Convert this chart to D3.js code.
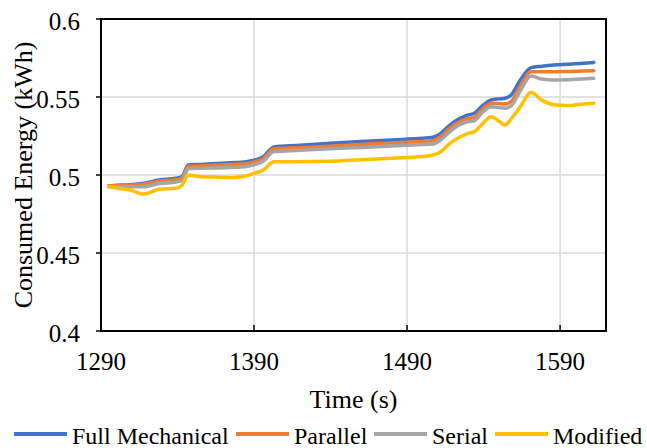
<!DOCTYPE html>
<html>
<head>
<meta charset="utf-8">
<script src="https://cdn.jsdelivr.net/npm/d3@7"></script>
<style>
  html, body { margin: 0; padding: 0; background: #fff; }
  svg { display: block; font-family: "Liberation Serif", "Times New Roman", serif; }
</style>
</head>
<body>
<svg id="chart" width="647" height="448"></svg>
<script>
const times = [1295, 1301, 1309, 1318, 1328, 1339, 1343, 1347, 1355, 1365, 1375, 1385, 1390, 1396, 1403, 1420, 1440, 1460, 1480, 1500, 1507, 1512, 1518, 1524, 1530, 1534, 1539, 1545, 1550, 1554, 1558, 1564, 1571, 1578, 1586, 1595, 1605, 1612];

const fullMechanical = [0.4930, 0.4935, 0.4938, 0.4947, 0.4968, 0.4979, 0.4990, 0.5064, 0.5068, 0.5073, 0.5078, 0.5085, 0.5095, 0.5117, 0.5180, 0.5190, 0.5203, 0.5215, 0.5225, 0.5235, 0.5242, 0.5267, 0.5320, 0.5360, 0.5385, 0.5396, 0.5442, 0.5481, 0.5488, 0.5492, 0.5513, 0.5609, 0.5688, 0.5697, 0.5705, 0.5710, 0.5716, 0.5722];
const parallel = [0.4930, 0.4933, 0.4935, 0.4940, 0.4960, 0.4970, 0.4980, 0.5055, 0.5058, 0.5062, 0.5067, 0.5073, 0.5083, 0.5105, 0.5168, 0.5175, 0.5185, 0.5195, 0.5205, 0.5215, 0.5220, 0.5245, 0.5300, 0.5340, 0.5363, 0.5370, 0.5420, 0.5460, 0.5458, 0.5455, 0.5470, 0.5570, 0.5662, 0.5662, 0.5662, 0.5664, 0.5667, 0.5669];
const serial = [0.4925, 0.4925, 0.4925, 0.4925, 0.4945, 0.4955, 0.4965, 0.5040, 0.5043, 0.5045, 0.5048, 0.5055, 0.5066, 0.5088, 0.5150, 0.5158, 0.5168, 0.5177, 0.5186, 0.5195, 0.5199, 0.5225, 0.5278, 0.5320, 0.5342, 0.5348, 0.5400, 0.5438, 0.5433, 0.5428, 0.5443, 0.5540, 0.5635, 0.5615, 0.5609, 0.5611, 0.5616, 0.5620];
const modified = [0.4928, 0.4915, 0.4904, 0.4878, 0.4908, 0.4915, 0.4935, 0.5000, 0.4989, 0.4987, 0.4983, 0.4995, 0.5010, 0.5032, 0.5085, 0.5085, 0.5088, 0.5098, 0.5108, 0.5118, 0.5128, 0.5149, 0.5203, 0.5240, 0.5267, 0.5278, 0.5325, 0.5374, 0.5345, 0.5320, 0.5360, 0.5438, 0.5530, 0.5480, 0.5450, 0.5445, 0.5455, 0.5460];

const seriesNames = ["Full Mechanical", "Parallel", "Serial", "Modified"];
const seriesColors = ["#4472C4", "#ED7D31", "#A5A5A5", "#FFC000"];
const seriesValues = [fullMechanical, parallel, serial, modified];

const xTicks = [1290, 1390, 1490, 1590];
const yTicks = [0.4, 0.45, 0.5, 0.55, 0.6];
const xDomain = [1290, 1620];
const yDomain = [0.4, 0.6];

const svg = d3.select("#chart");
const L = 101, R = 606, T = 19, B = 331;

const x = d3.scaleLinear().domain(xDomain).range([L, R]);
const y = d3.scaleLinear().domain(yDomain).range([B, T]);

// gridlines
svg.append("g").selectAll("line.hg").data(yTicks.filter(v => v > 0.4 && v < 0.6)).join("line")
  .attr("x1", L).attr("x2", R).attr("y1", d => y(d)).attr("y2", d => y(d))
  .attr("stroke", "#d9d9d9").attr("stroke-width", 1.5);
svg.append("g").selectAll("line.vg").data(xTicks.filter(v => v > 1290)).join("line")
  .attr("x1", d => x(d)).attr("x2", d => x(d)).attr("y1", T).attr("y2", B)
  .attr("stroke", "#d9d9d9").attr("stroke-width", 1.5);

// x ticks (inside)
svg.append("g").selectAll("line").data(xTicks).join("line")
  .attr("x1", d => x(d)).attr("x2", d => x(d)).attr("y1", B).attr("y2", B - 6)
  .attr("stroke", "#000").attr("stroke-width", 1.5);
// y ticks (outside)
svg.append("g").selectAll("line").data(yTicks).join("line")
  .attr("x1", L - 5).attr("x2", L).attr("y1", d => y(d)).attr("y2", d => y(d))
  .attr("stroke", "#000").attr("stroke-width", 1.5);

// lines
const line = d3.line().x((d, i) => x(times[i])).y(d => y(d)).curve(d3.curveMonotoneX);
seriesValues.forEach((vals, k) => {
  svg.append("path").datum(vals)
    .attr("d", line)
    .attr("fill", "none")
    .attr("stroke", seriesColors[k])
    .attr("stroke-width", 3.5)
    .attr("stroke-linecap", "round")
    .attr("stroke-linejoin", "round");
});

// frame
svg.append("rect").attr("x", L).attr("y", T).attr("width", R - L).attr("height", B - T)
  .attr("fill", "none").attr("stroke", "#000").attr("stroke-width", 2);

// tick labels
svg.append("g").selectAll("text").data(yTicks).join("text")
  .attr("x", 80).attr("y", d => y(d) + 10.5)
  .attr("text-anchor", "end").attr("font-size", 25).attr("fill", "#000")
  .text(d => d3.format("")(d));
svg.append("g").selectAll("text").data(xTicks).join("text")
  .attr("x", d => x(d)).attr("y", 370)
  .attr("text-anchor", "middle").attr("font-size", 25).attr("fill", "#000")
  .text(d => d);

// axis titles
svg.append("text").attr("x", (L + R) / 2).attr("y", 408)
  .attr("text-anchor", "middle").attr("font-size", 26).text("Time (s)");
svg.append("text").attr("transform", `translate(32,${(T + B) / 2}) rotate(-90)`)
  .attr("text-anchor", "middle").attr("font-size", 26).text("Consumed Energy (kWh)");

// legend
const legendX = [14, 236, 374, 495];
const lg = svg.append("g");
seriesNames.forEach((name, k) => {
  lg.append("line").attr("x1", legendX[k]).attr("x2", legendX[k] + 53)
    .attr("y1", 434).attr("y2", 434)
    .attr("stroke", seriesColors[k]).attr("stroke-width", 4);
  lg.append("text").attr("x", legendX[k] + 58).attr("y", 444)
    .attr("font-size", 24).text(name);
});
</script>
</body>
</html>
